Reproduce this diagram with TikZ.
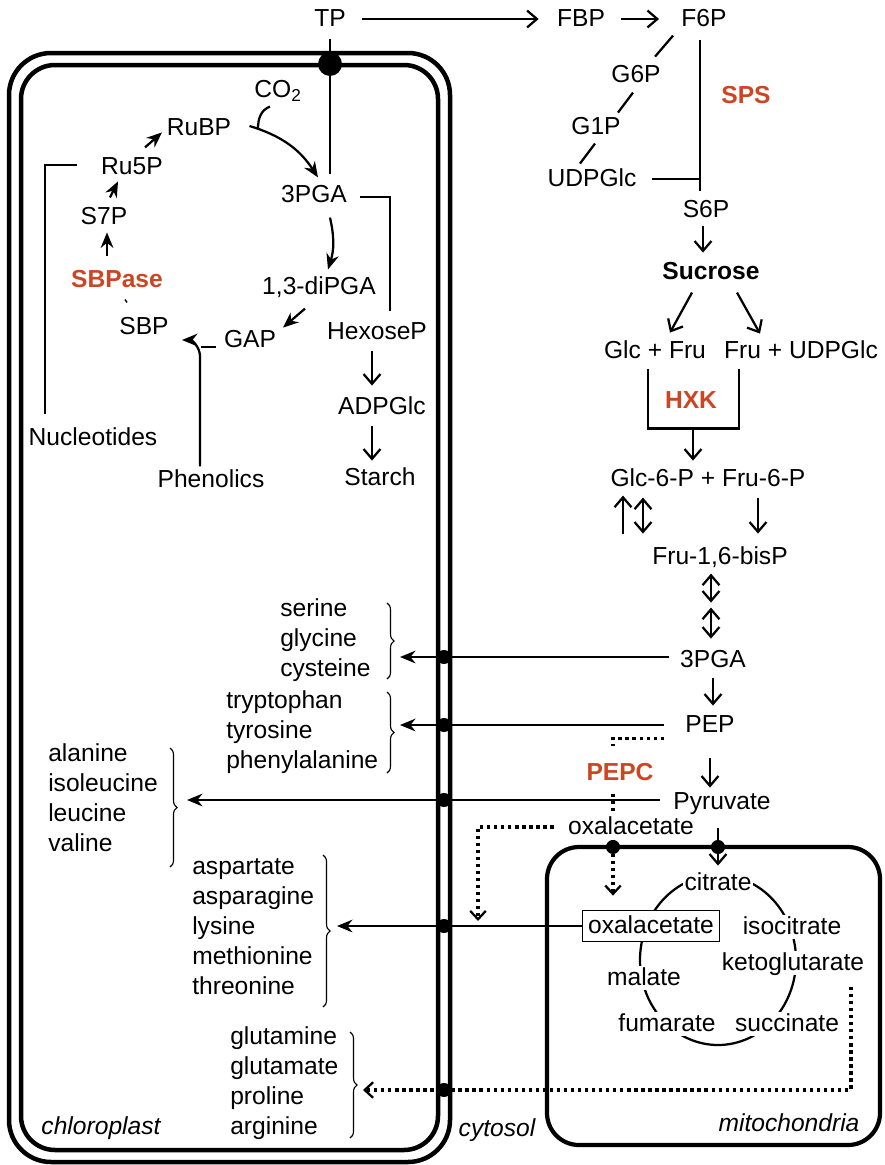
\documentclass[tikz,border=0pt]{standalone}
\usepackage{fontspec}
\setmainfont{Liberation Sans}
\usepackage{tikz}
\usetikzlibrary{arrows.meta,calc,decorations.pathreplacing}
\usepackage{xcolor}
\definecolor{enzred}{RGB}{204,70,36}
\newcommand{\metfont}{\fontsize{17.5}{21.3}\selectfont}

\begin{document}
\begin{tikzpicture}[
    x=0.025cm, y=-0.025cm,
    every node/.style={inner sep=1.5pt, font=\metfont},
    met/.style={text height=12.5pt, text depth=2pt},
    enz/.style={met, text=enzred, font=\metfont\bfseries},
    cyc/.style={met, fill=white, inner sep=1pt},
    aa/.style={align=left, anchor=base west, inner sep=0pt},
    comp/.style={font=\metfont\itshape},
    plain/.style={line width=1.6pt},
    flow/.style={plain, -{Straight Barb[length=7pt,width=12pt]}},
    dflow/.style={plain, {Straight Barb[length=7pt,width=12pt]}-{Straight Barb[length=7pt,width=12pt]}},
    rx/.style={plain, -{Stealth[length=11pt,width=9pt]}},
    dotl/.style={line width=2.4pt, dash pattern=on 2.4pt off 2.6pt},
    dotrx/.style={dotl, -{Straight Barb[length=6pt,width=11pt,line width=1.6pt]}},
    memb/.style={line width=3.2pt},
    port/.style={circle, fill=black, inner sep=0pt, minimum size=10pt},
    brc/.style={line width=0.8pt, decorate, decoration={brace, amplitude=5pt}}
]
\useasboundingbox (0,0) rectangle (884,1165);

% compartments
\draw[memb, rounded corners=1.05cm] (9,53) rectangle (450,1162);
\draw[memb, rounded corners=0.85cm] (21,65) rectangle (438,1150);
\draw[memb, line width=3pt, rounded corners=0.8cm] (547,847) rectangle (880,1145);

% TCA cycle ring
\draw[plain] (718,960) ellipse [x radius=78, y radius=85];

% cytosol
\node[met] (TP) at (330,19) {TP};
\node[met] (FBP) at (581,19) {FBP};
\node[met] (F6P) at (704,19) {F6P};
\node[met] (G6P) at (636,75) {G6P};
\node[met] (G1P) at (596,127) {G1P};
\node[met] (UDPGlc) at (592,179) {UDPGlc};
\node[enz] (SPS) at (746,96) {SPS};
\node[met] (S6P) at (706,210) {S6P};
\node[met, font=\metfont\bfseries] (Sucrose) at (711,272) {Sucrose};
\node[met] (GlcFru) at (655,351) {Glc + Fru};
\node[met] (FruUDP) at (801,351) {Fru + UDPGlc};
\node[enz] (HXK) at (691,401) {HXK};
\node[met] (G6PF6P) at (708,479) {Glc-6-P + Fru-6-P};
\node[met] (FBisP) at (720,557) {Fru-1,6-bisP};
\node[met] (PGAc) at (713,660) {3PGA};
\node[met] (PEP) at (710,725) {PEP};
\node[enz] (PEPC) at (620,773) {PEPC};
\node[met] (Pyr) at (722,802) {Pyruvate};
\node[met] (OAAc) at (631,827) {oxalacetate};

% chloroplast
\node[met] (CO2) at (278,90) {CO\textsubscript{2}};
\node[met] (RuBP) at (199,128) {RuBP};
\node[met] (PGAp) at (314,195) {3PGA};
\node[met] (diPGA) at (319,287) {1,3-diPGA};
\node[met] (GAP) at (250,340) {GAP};
\node[met] (SBP) at (144,327) {SBP};
\node[enz] (SBPase) at (117,280) {SBPase};
\node[met] (S7P) at (104,217) {S7P};
\node[met] (Ru5P) at (132,167) {Ru5P};
\node[met] (Nucl) at (93,438) {Nucleotides};
\node[met] (Phen) at (211,480) {Phenolics};
\node[met] (HexP) at (377,332) {HexoseP};
\node[met] (ADPG) at (382,407) {ADPGlc};
\node[met] (Starch) at (380,478) {Starch};

% amino acid groups (anchored on last line)
\node[aa] (ser) at (280,676) {serine\\glycine\\cysteine};
\node[aa] (trp) at (226,768) {tryptophan\\tyrosine\\phenylalanine};
\node[aa] (ala) at (48,851) {alanine\\isoleucine\\leucine\\valine};
\node[aa] (asp) at (192,994) {aspartate\\asparagine\\lysine\\methionine\\threonine};
\node[aa] (glu) at (230,1134) {glutamine\\glutamate\\proline\\arginine};
\draw[brc] (387,603) -- (387,679);
\draw[brc] (387,692) -- (387,773);
\draw[brc] (170,748) -- (170,867);
\draw[brc] (323,855) -- (323,1007);
\draw[brc] (350,1032) -- (350,1138);

% mitochondria
\node[met, fill=white, inner sep=1pt] (cit) at (718,883) {citrate};
\node[met, draw, line width=0.8pt, fill=white, inner sep=4pt] (OAAm) at (651,926) {oxalacetate};
\node[cyc] (isocit) at (792,927) {isocitrate};
\node[cyc] (akg) at (793,963) {ketoglutarate};
\node[cyc] (mal) at (644,978) {malate};
\node[cyc] (fum) at (667,1024) {fumarate};
\node[cyc] (succ) at (787,1024) {succinate};

\node[comp] (chl) at (101,1128) {chloroplast};
\node[comp] (cyt) at (497,1130) {cytosol};
\node[comp] (mito) at (789,1123) {mitochondria};

\coordinate (serIn) at (400,657);
\coordinate (trpIn) at (400,725);
\coordinate (alaIn) at (187,800);
\coordinate (aspIn) at (337,926);
\coordinate (gluIn) at (363,1090);
\coordinate (oaaDrop) at (478,921);

% sucrose synthesis
\draw[flow] ($(TP.east)+(14,0)$) -- ($(FBP.west)+(-16,0)$);
\draw[flow] ($(FBP.east)+(14,0)$) -- ($(F6P.west)+(-20,0)$);
\draw[plain] (F6P.south west) ++(-6,4) -- ++(-18,21);
\draw[plain] (G6P.south) ++(-3,5) -- ++(-15,20);
\draw[plain] (G1P.south) ++(-1,4) -- ++(-15,20);
\draw[plain] ($(F6P.south)+(-4,8)$) coordinate (spsbar) -- ($(spsbar |- S6P.north)+(0,-6)$);
\draw[plain] ($(UDPGlc.east)+(13,0)$) -- (UDPGlc.east -| spsbar);
\draw[flow] ($(S6P.south)+(-3,3)$) -- ++(0,27);
\draw[flow] ($(Sucrose.south)+(-19,8)$) -- ++(-22,40);
\draw[flow] ($(Sucrose.south)+(26,8)$) -- ++(23,41);
\draw[plain] ($(GlcFru.south)+(-7,5)$) -- ++(0,60) -| ($(FruUDP.south west)+(17,5)$);
\draw[flow] ($(HXK.south)+(2,15)$) -- ++(0,32);
\draw[flow] ($(G6PF6P.south)+(-85,42)$) -- ++(0,-38);
\draw[dflow] ($(G6PF6P.south)+(-65,6)$) -- ++(0,36);
\draw[flow] ($(G6PF6P.south)+(50,6)$) -- ++(0,36);
\draw[dflow] ($(FBisP.south)+(-9,4)$) -- ++(0,29);
\draw[dflow] ($(FBisP.south)+(-9,38)$) -- ++(0,31);
\draw[flow] ($(PGAc.south)+(0,5)$) -- ++(0,28);
\draw[flow] ($(PEP.south)+(0,20)$) -- ++(0,30);
\draw[flow] ($(Pyr.south)+(-4,13)$) -- ++(0,38);

% PEPC branch
\draw[dotl] ($(PEP.south west)+(-19,1)$) -| ($(PEPC.north)+(-7,-14)$);
\draw[dotl] ($(PEPC.south)+(-7,8)$) -- ++(0,20);
\draw[dotrx] ($(OAAc.west)+(-12,0)$) -| (oaaDrop);
\draw[dotrx] ($(OAAc.south)+(-18,0)$) -- ($(OAAm.north)+(-38,-14)$);

% export to amino acids
\draw[rx] ($(PGAc.west)+(-9,-3)$) -- (serIn);
\draw[rx] ($(PEP.west)+(-19,0)$) -- (trpIn);
\draw[rx] ($(Pyr.west)+(-11,-2)$) -- (alaIn);
\draw[rx] (OAAm.west) -- (aspIn);
\draw[dotrx] ($(akg.south east)+(-15,12)$) |- (gluIn);

% Calvin cycle
\draw[plain] (TP.south) ++(0,7) -- ++(0,135);
\draw[rx] ($(RuBP.east)+(16,-2)$) to[bend left=20] ($(PGAp.north)+(4,-5)$);
\draw[plain] ($(CO2.south)+(-8,4)$) to[out=200,in=90] ++(-12,22);
\draw[plain] ($(PGAp.east)+(11,2)$) -| ($(HexP.north)+(13,-8)$);
\draw[rx] ($(PGAp.south)+(16,10)$) to[bend left=15] ($(diPGA.north)+(9,-5)$);
\draw[rx] ($(diPGA.south)+(-14,9)$) -- ++(-22,19);
\draw[plain] ($(GAP.west)+(-6,7)$) -- ++(-15,0);
\draw[rx] ($(Phen.north)+(-11,-1)$) -- ++(0,-110) to[out=90,in=0] ($(SBP.east)+(11,13)$);
\draw[line width=1pt] ($(SBP.north)+(-19,-15)$) -- ++(2,3);
\draw[rx] ($(SBPase.north)+(-10,-11)$) -- ++(0,-24);
\draw[rx] ($(S7P.north)+(6,-7)$) -- ++(8,-16);
\draw[rx] ($(Ru5P.north)+(13,-7)$) -- ++(17,-15);
\draw[plain] ($(Ru5P.west)+(-22,-2)$) -| ($(Nucl.north)+(-48,-11)$);
\draw[flow] ($(HexP.south)+(-5,6)$) -- ++(0,35);
\draw[flow] ($(ADPG.south)+(-10,6)$) -- ++(0,35);

% transporters
\node[port, minimum size=17pt] (tpport) at (330,64) {};
\node[port] (p1) at (444,657) {};
\node[port] (p2) at (444,725) {};
\node[port] (p3) at (444,800) {};
\node[port] (p4) at (444,926) {};
\node[port] (p5) at (444,1090) {};
\node[port] (m1) at (613,847) {};
\node[port] (m2) at (718,847) {};

\end{tikzpicture}
\end{document}
